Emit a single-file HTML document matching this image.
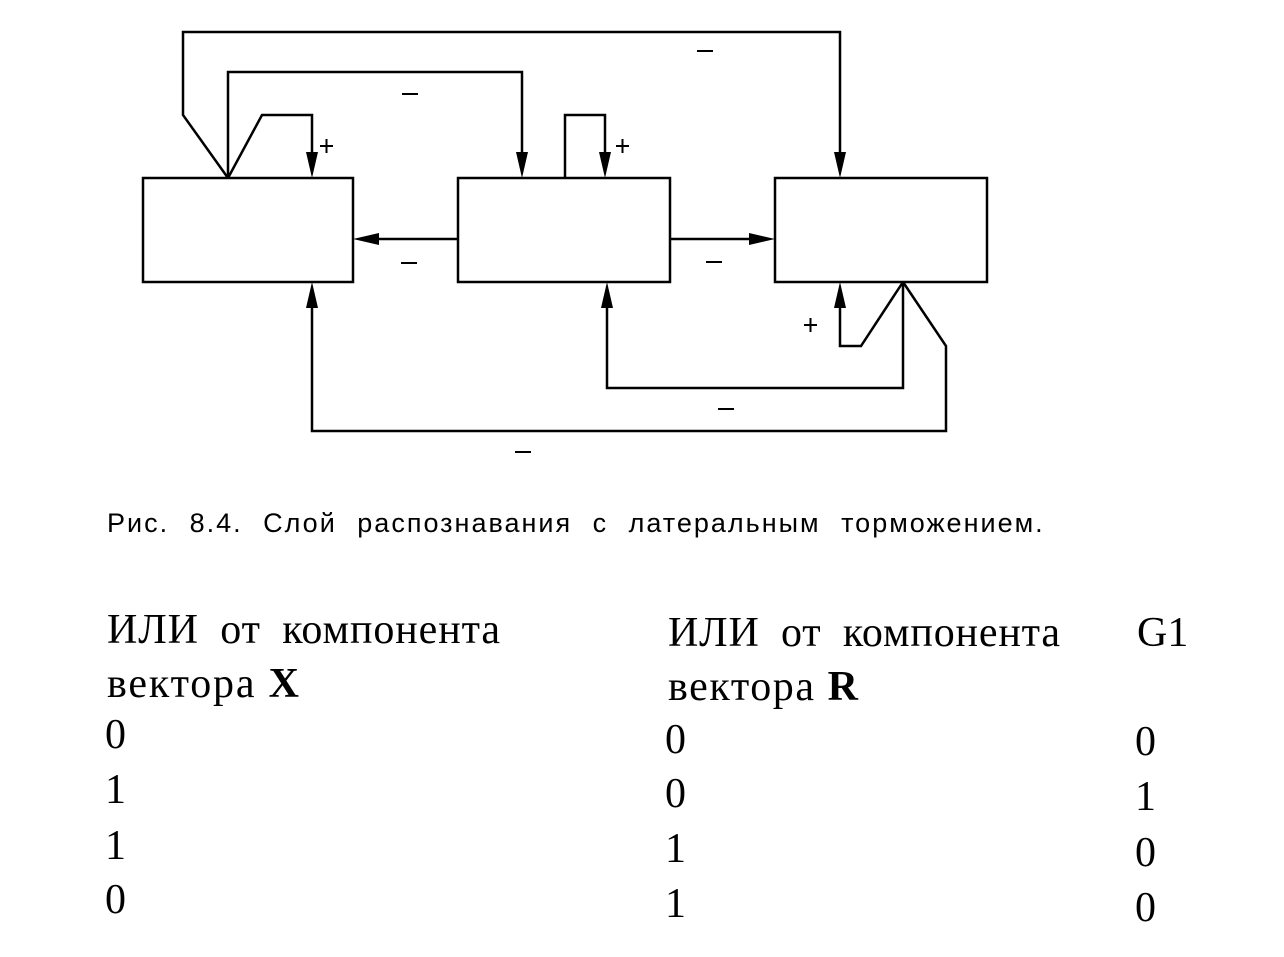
<!DOCTYPE html>
<html><head><meta charset="utf-8"><style>
html,body{margin:0;padding:0;background:#fff;}
svg{display:block;}
.c{font-family:"Liberation Sans",sans-serif;font-size:27px;letter-spacing:2px;word-spacing:11px;}
.t{font-family:"Liberation Serif",serif;font-size:42px;}
</style></head><body>
<svg width="1284" height="957" viewBox="0 0 1284 957" xmlns="http://www.w3.org/2000/svg">
<g fill="none" stroke="#000" stroke-width="2.5">
<rect x="143" y="178" width="210" height="104"/>
<rect x="458" y="178" width="212" height="104"/>
<rect x="775" y="178" width="212" height="104"/>
<polyline points="228,178 183,115 183,32 840,32 840,160"/>
<polyline points="228,178 228,72 522,72 522,160"/>
<polyline points="228,178 262,115 312,115 312,160"/>
<polyline points="565,178 565,115 605,115 605,160"/>
<line x1="458" y1="239" x2="370" y2="239"/>
<line x1="670" y1="239" x2="758" y2="239"/>
<polyline points="903,282 903,388 607,388 607,300"/>
<polyline points="903,282 861,346 840,346 840,300"/>
<polyline points="903,282 946,346 946,431 312,431 312,300"/>
</g>
<g fill="#000">
<polygon points="840,178 834,152 846,152"/>
<polygon points="522,178 516,152 528,152"/>
<polygon points="312,178 306,152 318,152"/>
<polygon points="605,178 599,152 611,152"/>
<polygon points="353,239 379,233 379,245"/>
<polygon points="775,239 749,233 749,245"/>
<polygon points="607,282 601,308 613,308"/>
<polygon points="840,282 834,308 846,308"/>
<polygon points="312,282 306,308 318,308"/>
</g>
<g stroke="#000" stroke-width="2">
<line x1="697" y1="51" x2="713" y2="51"/>
<line x1="402" y1="94" x2="418" y2="94"/>
<line x1="401" y1="263" x2="417" y2="263"/>
<line x1="706" y1="262" x2="722" y2="262"/>
<line x1="718" y1="409" x2="734" y2="409"/>
<line x1="515" y1="452" x2="531" y2="452"/>
<line x1="320" y1="146" x2="333" y2="146"/><line x1="326.5" y1="139" x2="326.5" y2="153"/>
<line x1="616" y1="146" x2="629" y2="146"/><line x1="622.5" y1="139" x2="622.5" y2="153"/>
<line x1="804" y1="325" x2="817" y2="325"/><line x1="810.5" y1="318" x2="810.5" y2="332"/>
</g>
<text class="c" x="107" y="532">Рис. 8.4. Слой распознавания с латеральным торможением.</text>
<g class="t">
<text x="107" y="643" textLength="393" lengthAdjust="spacing" word-spacing="10">ИЛИ от компонента</text>
<text x="107" y="697" textLength="192" lengthAdjust="spacing">вектора <tspan font-weight="bold">X</tspan></text>
<text x="105" y="748">0</text><text x="105" y="803">1</text><text x="105" y="859">1</text><text x="105" y="913">0</text>
<text x="668" y="646" textLength="392" lengthAdjust="spacing" word-spacing="10">ИЛИ от компонента</text>
<text x="668" y="700" textLength="190" lengthAdjust="spacing">вектора <tspan font-weight="bold">R</tspan></text>
<text x="665" y="753">0</text><text x="665" y="807">0</text><text x="665" y="862">1</text><text x="665" y="917">1</text>
<text x="1137" y="646">G1</text>
<text x="1135" y="755">0</text><text x="1135" y="810">1</text><text x="1135" y="866">0</text><text x="1135" y="921">0</text>
</g>
</svg>
</body></html>
